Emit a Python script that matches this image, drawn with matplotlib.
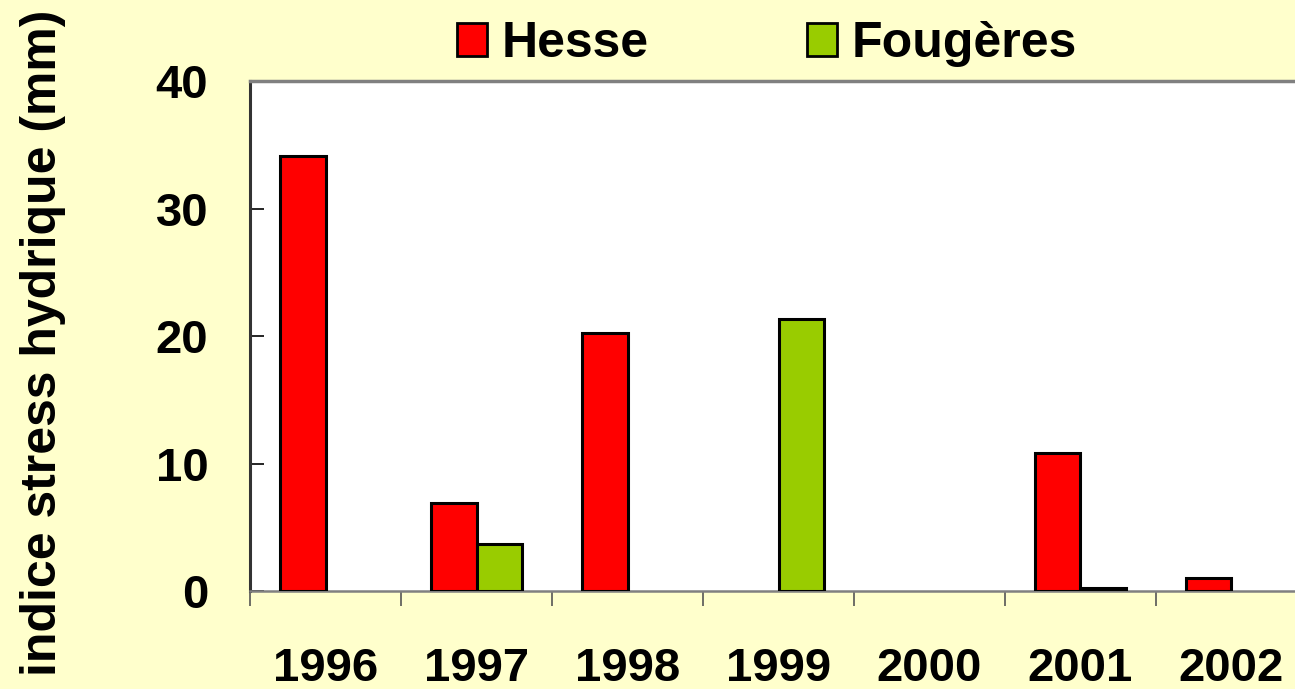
import matplotlib
matplotlib.use("Agg")
import matplotlib.pyplot as plt
import numpy as np
from matplotlib.patches import Patch

years = ["1996", "1997", "1998", "1999", "2000", "2001", "2002"]
hesse = [34.1, 6.9, 20.2, 0.0, 0.0, 10.8, 1.0]
fougeres = [0.0, 3.7, 0.0, 21.3, 0.0, 0.2, 0.0]
yticks = [0, 10, 20, 30, 40]

plt.rcParams['font.family'] = ['Liberation Sans', 'DejaVu Sans']
plt.rcParams['font.weight'] = 'bold'

W, H = 1295, 689
fig = plt.figure(figsize=(W / 100, H / 100), dpi=100, facecolor='#FFFFCC')
x0, x1 = 250, 250 + 7 * 151
ax = fig.add_axes([x0 / W, 1 - 591 / H, (x1 - x0) / W, (591 - 81) / H])
ax.set_facecolor('white')

x = np.arange(len(years)) + 0.5
bw = 0.3
h = np.array(hesse)
f = np.array(fougeres)
mh = h > 0
mf = f > 0
ax.bar(x[mh] - bw / 2, h[mh], bw, color='#FF0000', edgecolor='black', linewidth=2.2, zorder=3)
ax.bar(x[mf] + bw / 2, f[mf], bw, color='#99CC00', edgecolor='black', linewidth=2.2, zorder=3)

ax.set_xlim(0, len(years))
ax.set_ylim(0, 40)

ax.set_yticks(yticks)
ax.set_yticklabels([str(v) for v in yticks], fontsize=34, fontweight='bold')
ax.tick_params(axis='y', direction='in', length=10, width=1.2, color='black', pad=30)

ax.set_xticks(x)
ax.set_xticklabels(years, fontsize=34, fontweight='bold')
ax.tick_params(axis='x', which='major', length=0, pad=40)
ax.set_xticks(np.arange(len(years) + 1), minor=True)
ax.tick_params(axis='x', which='minor', direction='out', length=11, width=1.2, color='#555555')

for s in ['top', 'bottom']:
    ax.spines[s].set_color('#808080')
ax.spines['top'].set_linewidth(2.5)
ax.spines['bottom'].set_linewidth(1.8)
ax.spines['left'].set_color('#333333')
ax.spines['left'].set_linewidth(2.2)
ax.spines['right'].set_visible(False)

fig.text(43 / W, 1 - 343 / H, 'indice stress hydrique (mm)', rotation=90,
         fontsize=36, fontweight='bold', ha='center', va='center')

handles = [Patch(facecolor='#FF0000', edgecolor='black', linewidth=2),
           Patch(facecolor='#99CC00', edgecolor='black', linewidth=2)]
fig.legend(handles, ['Hesse', 'Fougères'], ncol=2, loc='center',
           bbox_to_anchor=(767 / W, 1 - 44 / H), frameon=False,
           prop={'size': 36, 'weight': 'bold'},
           handlelength=0.6, handleheight=0.64, handletextpad=0.3,
           columnspacing=3.15, borderpad=0)

fig.savefig('out.png', dpi=100, facecolor=fig.get_facecolor())
